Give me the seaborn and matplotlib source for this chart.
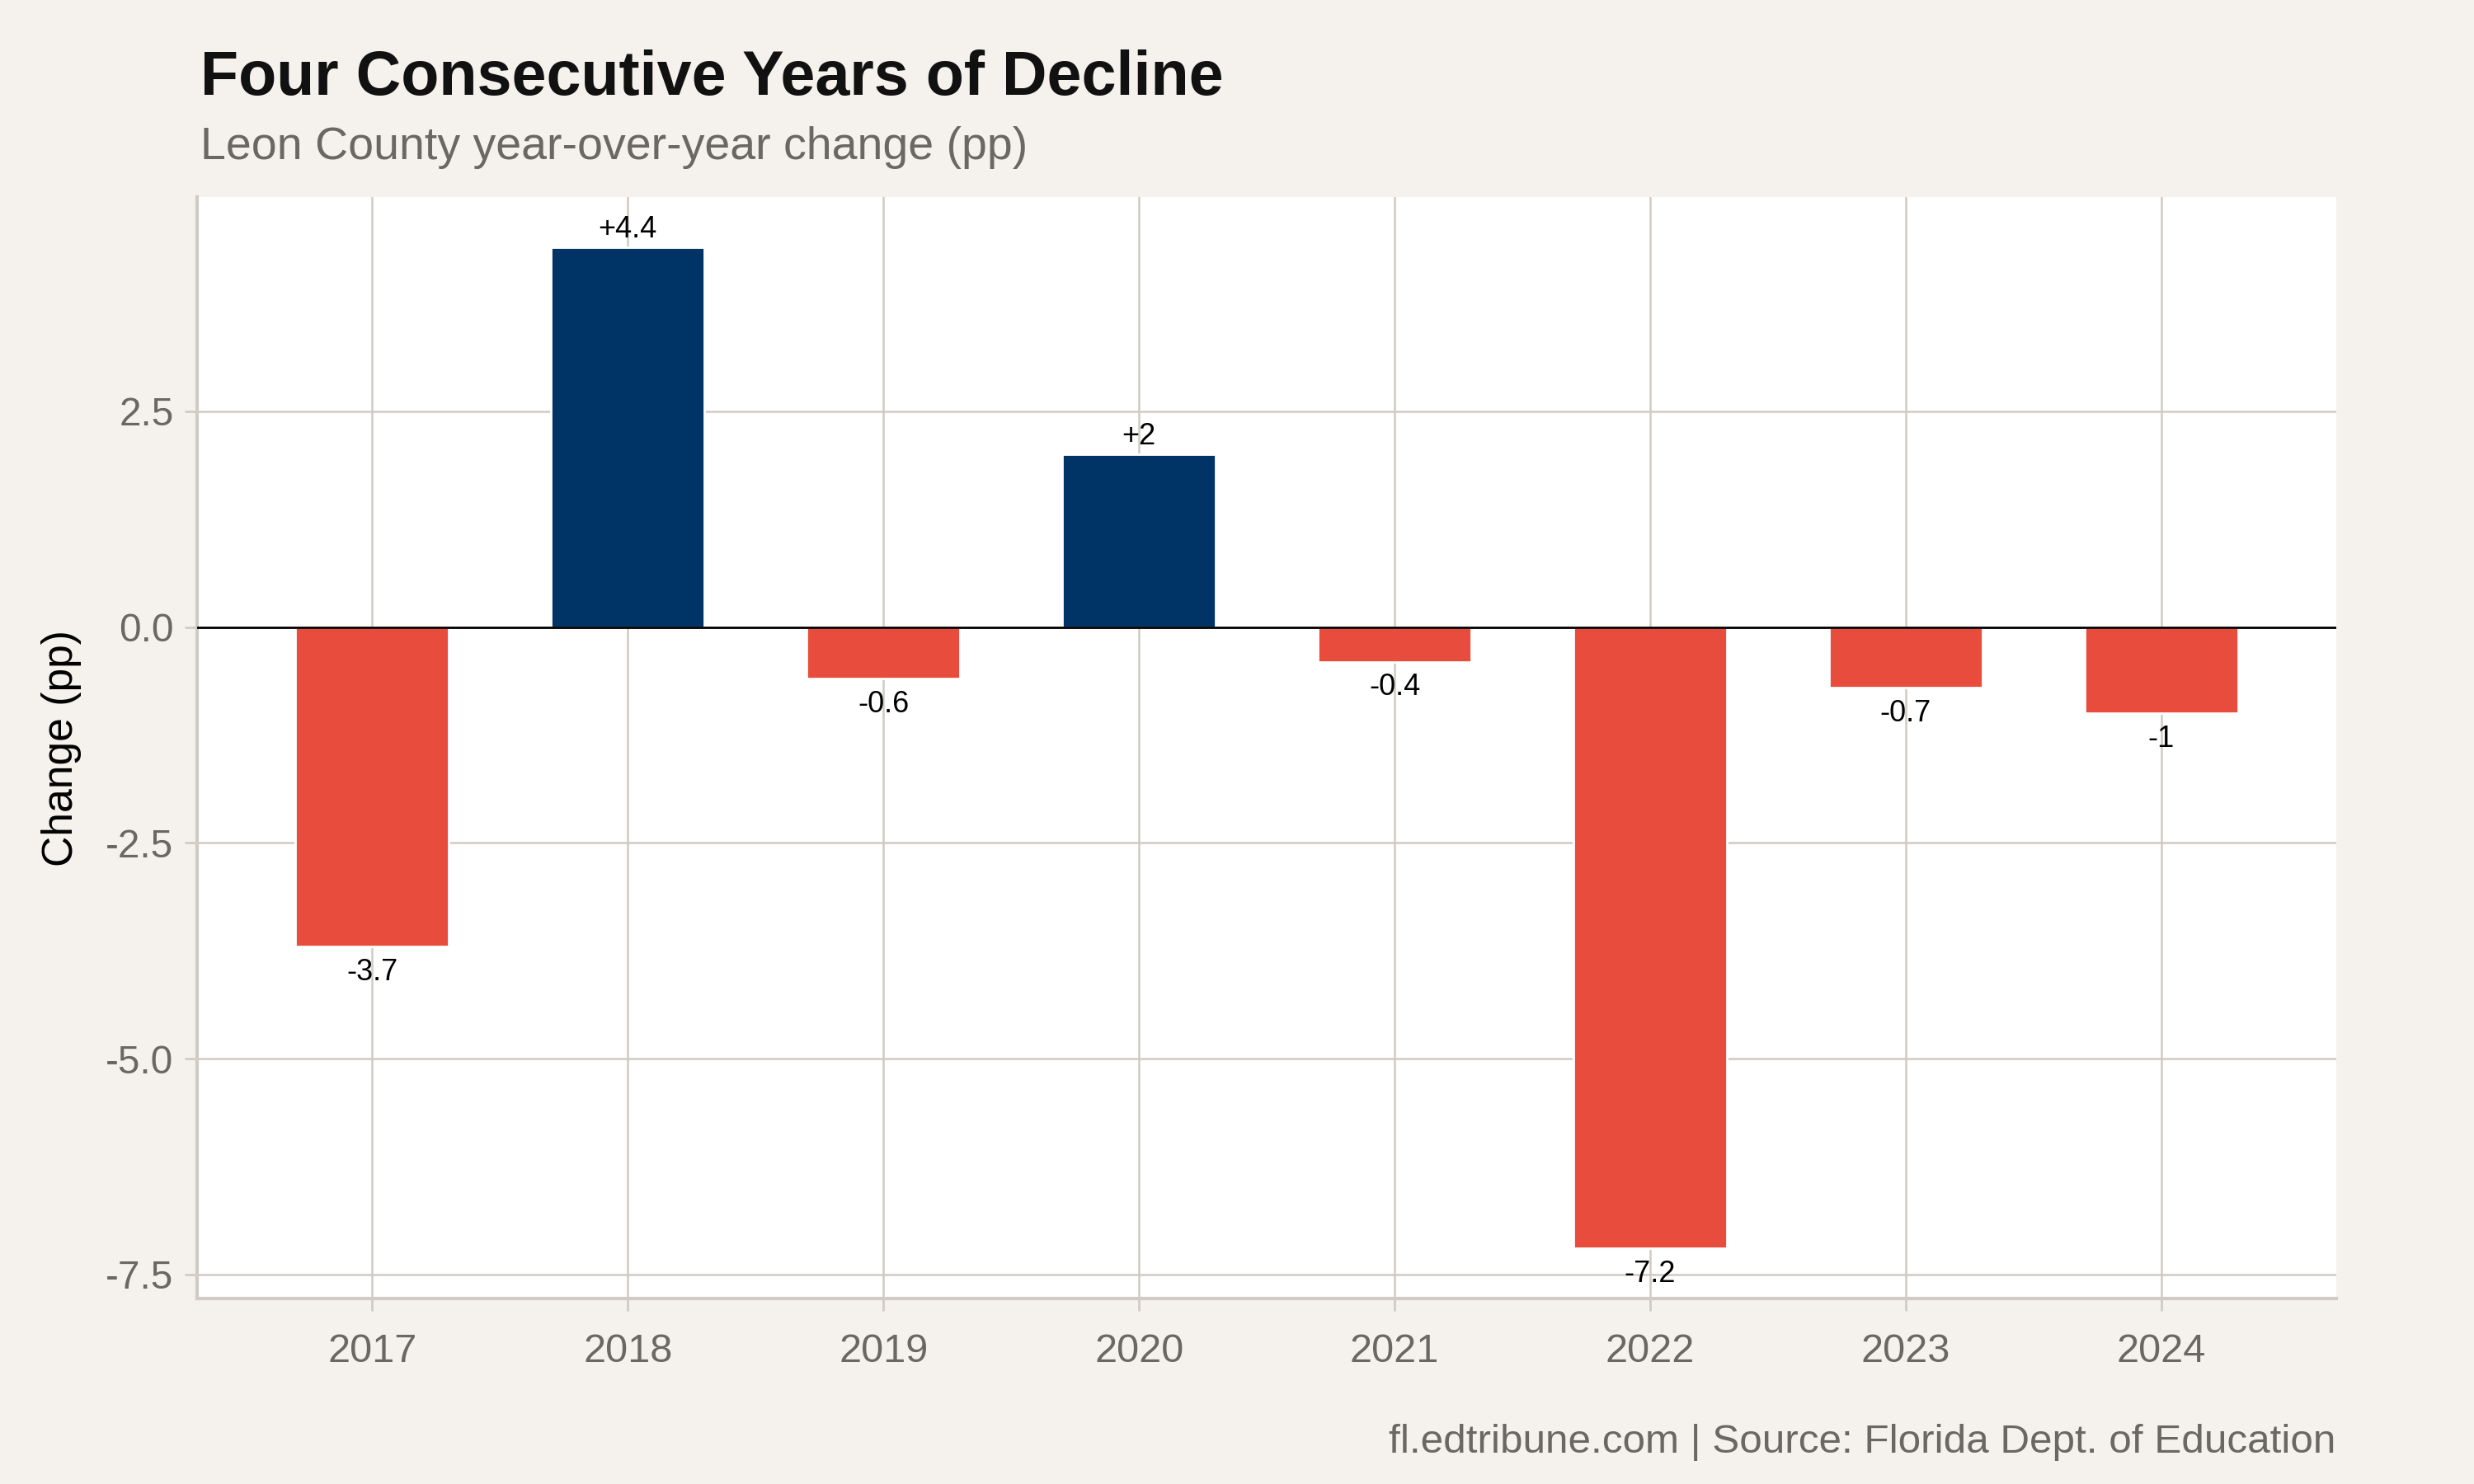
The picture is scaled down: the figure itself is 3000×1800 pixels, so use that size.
import numpy as np
import pandas as pd
import matplotlib
matplotlib.use("Agg")
import matplotlib.pyplot as plt
import seaborn as sns

years = ["2017", "2018", "2019", "2020", "2021", "2022", "2023", "2024"]
change = [-3.7, 4.4, -0.6, 2.0, -0.4, -7.2, -0.7, -1.0]
labels = ["-3.7", "+4.4", "-0.6", "+2", "-0.4", "-7.2", "-0.7", "-1"]

df = pd.DataFrame({"year": years, "change": change})
df["dir"] = np.where(df["change"] >= 0, "up", "down")

bg = "#f5f2ed"
grid_c = "#d0cbc3"
grey_txt = "#6b6862"
colors = {"up": "#003366", "down": "#e84c3d"}

sns.set_theme(style="white")
plt.rcParams["font.family"] = ["Liberation Sans", "DejaVu Sans"]

fig = plt.figure(figsize=(15, 9), dpi=200, facecolor=bg)
ax = fig.add_axes([0.0797, 0.125, 0.8647, 0.742])
ax.set_facecolor("white")

sns.barplot(data=df, x="year", y="change", hue="dir", palette=colors,
            dodge=False, width=0.6, legend=False, ax=ax, saturation=1,
            zorder=3)

ax.set_xlim(-0.685, 7.685)
ax.set_ylim(-7.78, 4.98)
ax.set_yticks([-7.5, -5.0, -2.5, 0.0, 2.5])
ax.set_yticklabels(["-7.5", "-5.0", "-2.5", "0.0", "2.5"])

ax.grid(True, color=grid_c, lw=0.9, zorder=0)
ax.set_axisbelow(True)
ax.axhline(0, color="black", lw=1.0, zorder=4)

# value labels: above positive bars, below negative ones
for i, (v, t) in enumerate(zip(change, labels)):
    if v >= 0:
        ax.text(i, v + 0.04, t, ha="center", va="bottom", fontsize=13, color="black", zorder=5)
    else:
        ax.text(i, v - 0.13, t, ha="center", va="top", fontsize=13, color="black", zorder=5)

for s in ["top", "right"]:
    ax.spines[s].set_visible(False)
for s in ["left", "bottom"]:
    ax.spines[s].set_color(grid_c)
    ax.spines[s].set_linewidth(1.5)

ax.tick_params(axis="both", colors=grid_c, labelcolor=grey_txt,
               length=5.3, width=1.0, direction="out", left=True, bottom=True)
ax.tick_params(axis="x", labelsize=17.5, pad=10)
ax.tick_params(axis="y", labelsize=17.2, pad=5)

ax.set_xlabel("")
ax.set_ylabel("Change (pp)", fontsize=18.6, color="black", labelpad=10.5)

fig.text(0.081, 0.936, "Four Consecutive Years of Decline", fontsize=27.2,
         fontweight="bold", color="#111111", ha="left", va="baseline")
fig.text(0.081, 0.893, "Leon County year-over-year change (pp)", fontsize=20,
         color=grey_txt, ha="left", va="baseline")
fig.text(0.944, 0.021, "fl.edtribune.com | Source: Florida Dept. of Education",
         fontsize=17.8, color=grey_txt, ha="right", va="baseline")

fig.savefig("out.png", dpi=200, facecolor=bg)
